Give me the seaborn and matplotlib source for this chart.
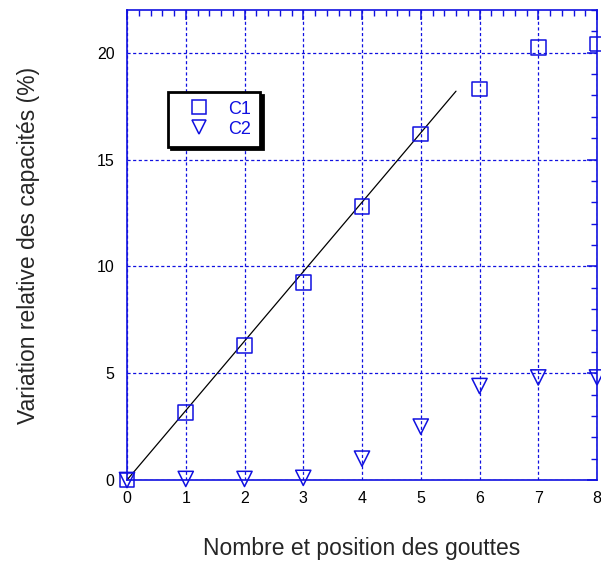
import numpy as np
import pandas as pd
import matplotlib
matplotlib.use("Agg")
import matplotlib.pyplot as plt
from matplotlib.ticker import MultipleLocator
from matplotlib.lines import Line2D
import seaborn as sns

# Données
gouttes = [0, 1, 2, 3, 4, 5, 6, 7, 8]
c1 = [0.0, 3.15, 6.3, 9.25, 12.8, 16.2, 18.3, 20.25, 20.4]
c2 = [0.0, 0.05, 0.05, 0.1, 1.0, 2.5, 4.4, 4.8, 4.8]
fit_x = [0, 5.6]
fit_y = [0, 18.2]

bleu = "#1010e0"

sns.set_style("white")
plt.rcParams['font.family'] = ['Liberation Sans', 'DejaVu Sans']

df = pd.DataFrame({"x": gouttes, "C1": c1, "C2": c2})

fig = plt.figure(figsize=(6.01, 5.65), dpi=100)
ax = fig.add_axes([127 / 601, 1 - 480 / 565, 470 / 601, 470 / 565])

sns.lineplot(x=fit_x, y=fit_y, color="black", lw=0.9, ax=ax)
sns.scatterplot(data=df, x="x", y="C1", marker="s", s=110, facecolors="none",
                edgecolor=bleu, linewidth=1.1, ax=ax, clip_on=False, zorder=5)
sns.scatterplot(data=df, x="x", y="C2", marker="v", s=120, facecolors="none",
                edgecolor=bleu, linewidth=1.1, ax=ax, clip_on=False, zorder=5)

ax.set_xlim(0, 8)
ax.set_ylim(0, 22)
ax.xaxis.set_major_locator(MultipleLocator(1))
ax.xaxis.set_minor_locator(MultipleLocator(0.2))
ax.yaxis.set_major_locator(MultipleLocator(5))
ax.yaxis.set_minor_locator(MultipleLocator(1))
ax.grid(True, which="major", color=bleu, linestyle=(0, (2.5, 2)), lw=0.9)

for sp in ax.spines.values():
    sp.set_color(bleu)
    sp.set_linewidth(1.2)
    sp.set_visible(True)
ax.tick_params(which="both", direction="in", top=True, right=True, color=bleu,
               labelsize=11.5, labelcolor="black")
ax.tick_params(which="major", length=7, width=1.1)
ax.tick_params(which="minor", length=4, width=1.0)
ax.tick_params(axis="x", pad=8)
ax.tick_params(axis="y", pad=9)

ax.set_xlabel("Nombre et position des gouttes", fontsize=16.5, labelpad=22)
ax.set_ylabel("Variation relative des capacités (%)", fontsize=16.5, labelpad=41)

handles = [
    Line2D([], [], marker="s", ls="none", mfc="none", mec=bleu, ms=10, mew=1.1),
    Line2D([], [], marker="v", ls="none", mfc="none", mec=bleu, ms=10, mew=1.1),
]
leg = ax.legend(handles, ["C1", "C2"], loc="upper left",
                bbox_to_anchor=(0.087, 0.826), borderaxespad=0, fancybox=False,
                shadow={"color": "black", "alpha": 1}, frameon=True,
                edgecolor="black", fontsize=13, handlelength=2.4,
                handletextpad=0.45, borderpad=0.5, labelspacing=0.15,
                labelcolor=bleu)
leg.get_frame().set_linewidth(2)

fig.savefig("out.png", dpi=100)
